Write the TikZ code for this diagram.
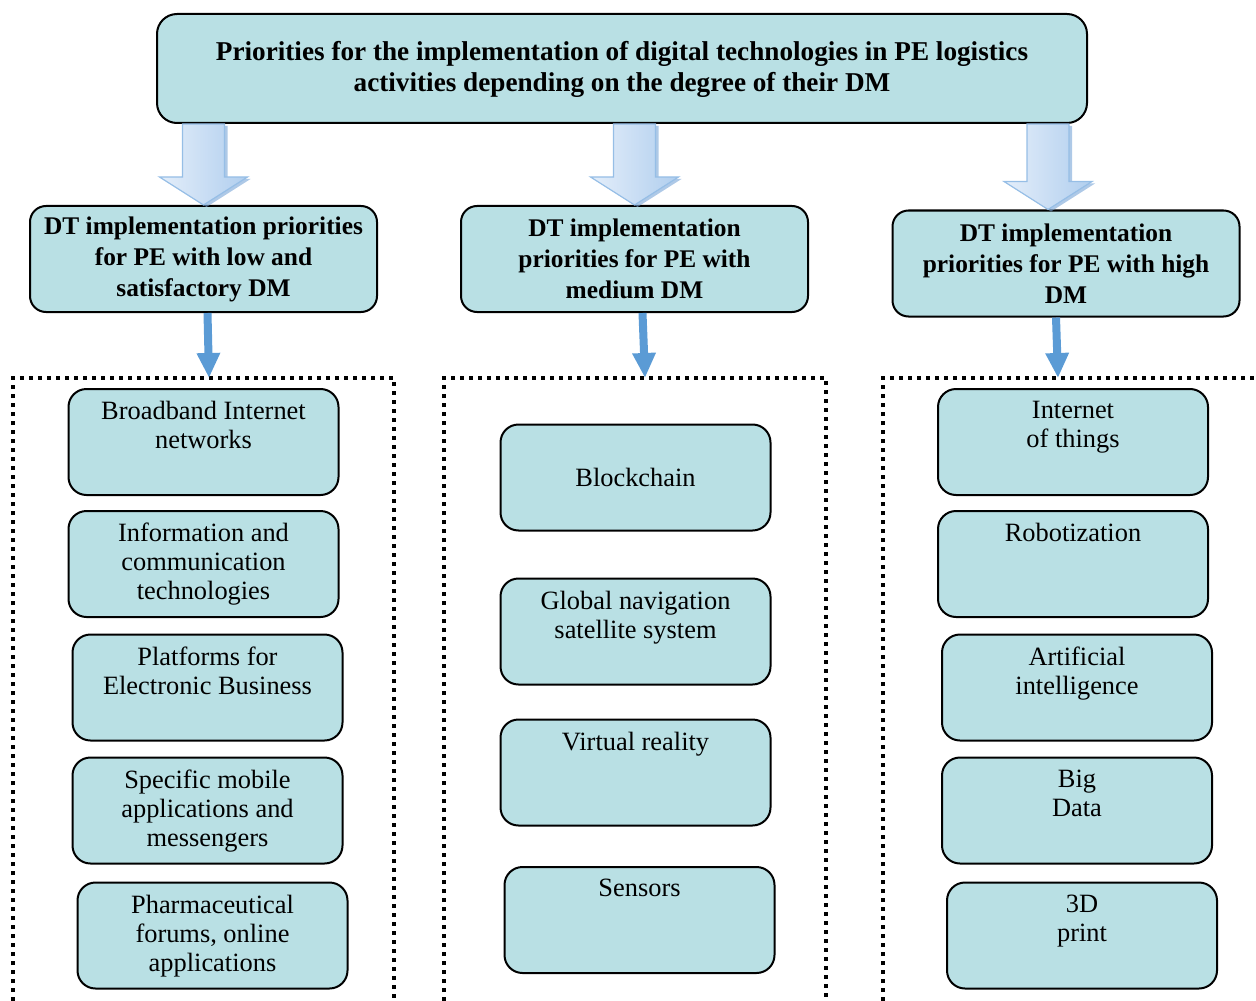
\documentclass[tikz,border=0pt]{standalone}
\usepackage{fontspec}
\setmainfont{Liberation Serif}
\usetikzlibrary{positioning,arrows.meta,calc,shadows}

\definecolor{boxfill}{RGB}{185,224,228}
\definecolor{arrowblue}{RGB}{91,155,213}
\definecolor{arrowlight}{RGB}{228,238,250}
\definecolor{arrowmid}{RGB}{176,206,238}
\definecolor{arrowedge}{RGB}{150,190,230}
\definecolor{arrowshade}{RGB}{120,165,215}

\tikzset{
  topbox/.style={draw, line width=1pt, fill=boxfill, rounded corners=10pt,
    minimum width=465pt, minimum height=54.5pt, align=center, text depth=2pt,
    font=\bfseries\fontsize{13.6}{15.5}\selectfont},
  headbox/.style={draw, line width=1pt, fill=boxfill, rounded corners=8pt,
    minimum width=173.5pt, minimum height=53pt, align=center, inner sep=2pt,
    font=\bfseries\fontsize{12.7}{15.5}\selectfont},
  itembox/.style={draw, line width=1pt, fill=boxfill, rounded corners=9pt,
    minimum width=135pt, minimum height=53pt, align=center, inner sep=0pt,
    font=\fontsize{13.2}{14.5}\selectfont},
  itemtext/.style={align=center, inner sep=0pt, font=\fontsize{13.2}{14.5}\selectfont},
  toplab/.style={label={[itemtext, anchor=north, yshift=-6.5pt]north:{#1}}},
  framebox/.style={line width=2pt, dash pattern=on 2pt off 2.5pt},
  smallarrow/.style={draw=arrowblue, line width=4pt, -{Triangle[length=12.5pt,width=11pt]}},
  fatarrow/.style={draw=arrowedge, line width=0.6pt, left color=arrowlight, right color=arrowmid,
    drop shadow={shadow xshift=1.5pt, shadow yshift=-1pt, fill=arrowshade, opacity=.6}}
}

% hollow block arrow from #1 down to #2
\newcommand\fatarrow[2]{%
  \path[fatarrow] let \p1=(#1), \p2=(#2) in
    (\x1-10.5pt,\y1) -- (\x1+10.5pt,\y1) -- (\x1+10.5pt,\y2+14pt) -- (\x1+22pt,\y2+14pt)
    -- (\x2,\y2) -- (\x1-22pt,\y2+14pt) -- (\x1-10.5pt,\y2+14pt) -- cycle;}

\begin{document}
\begin{tikzpicture}[x=0.5pt,y=-0.5pt]
\clip (0,0) rectangle (1256,1000);

\path
(622,68.5) node[topbox] (top) {Priorities for the implementation of digital technologies in PE logistics\\activities depending on the degree of their DM}
(203.5,259) node[headbox] (lowdm) {DT implementation priorities\\for PE with low and\\satisfactory DM}
(634.5,259) node[headbox] (meddm) {DT implementation\\priorities for PE with\\medium DM}
(1066,263.5) node[headbox] (highdm) {DT implementation\\priorities for PE with high\\DM};

\fatarrow{top.south -| lowdm.north}{lowdm.north}
\fatarrow{top.south -| meddm.north}{meddm.north}
\fatarrow{$(top.south -| highdm.north)+(-18,0)$}{$(highdm.north)+(-18,0)$}

% dotted frames
\coordinate (lowfr) at (209,378);
\coordinate (medfr) at (645,378);
\coordinate (highfr) at (1058,378);
\draw[framebox] (13,1010) -- (13,378) -- (394,378) -- (394,1010);
\draw[framebox] (444,1010) -- (444,378) -- (826,378) -- (826,1010);
\draw[framebox] (883,1010) -- (883,378) -- (1262,378);

\draw[smallarrow] ([xshift=2pt]lowdm.south) -- (lowfr);
\draw[smallarrow] ([xshift=4pt]meddm.south) -- (medfr);
\draw[smallarrow] ([xshift=-5pt]highdm.south) -- (highfr);

% low and satisfactory
\path
(203.5,442) node[itembox, toplab={Broadband Internet\\networks}] (bb) {}
(203.5,564) node[itembox, toplab={Information and\\communication\\technologies}] (ict) {}
(207.5,687.5) node[itembox, toplab={Platforms for\\Electronic Business}] (ebiz) {}
(207.5,810.5) node[itembox, toplab={Specific mobile\\applications and\\messengers}] (mob) {}
(212.5,935.5) node[itembox, toplab={Pharmaceutical\\forums, online\\applications}] (pharm) {};

% medium
\path
(635.5,477.5) node[itembox] (chain) {Blockchain}
(635.5,631.5) node[itembox, toplab={Global navigation\\satellite system}] (gnss) {}
(635.5,772.5) node[itembox, toplab={Virtual reality}] (vr) {}
(639.5,920) node[itembox, toplab={Sensors}] (sens) {};

% high
\path
(1073,442) node[itembox, toplab={Internet\\of things}] (iot) {}
(1073,564) node[itembox, toplab={Robotization}] (robot) {}
(1077,687.5) node[itembox, toplab={Artificial\\intelligence}] (ai) {}
(1077,810.5) node[itembox, toplab={Big\\Data}] (bigdata) {}
(1082,935.5) node[itembox, toplab={3D\\print}] (print) {};

\end{tikzpicture}
\end{document}
